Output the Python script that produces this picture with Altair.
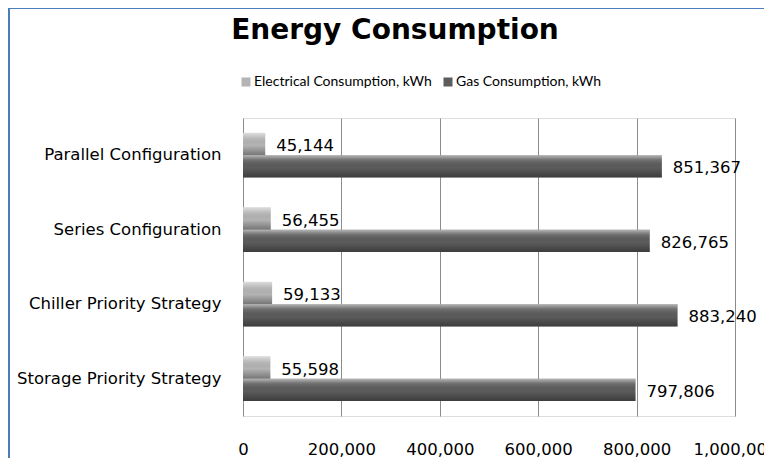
import altair as alt
import pandas as pd

categories = ["Parallel Configuration", "Series Configuration",
              "Chiller Priority Strategy", "Storage Priority Strategy"]
series = ["Electrical Consumption,  kWh", "Gas Consumption,  kWh"]
electrical = [45144, 56455, 59133, 55598]
gas = [851367, 826765, 883240, 797806]
x_ticks = [0, 200000, 400000, 600000, 800000, 1000000]
series_colors = ["#b4b4b4", "#5c5c5c"]

rows = []
for c, e, g in zip(categories, electrical, gas):
    rows.append({"category": c, "series": series[0], "value": e})
    rows.append({"category": c, "series": series[1], "value": g})
df = pd.DataFrame(rows)

FONT = "DejaVu Sans"
W, H = 492, 298

base = alt.Chart(df).encode(
    y=alt.Y("category:N", sort=categories,
            scale=alt.Scale(paddingInner=0.4, paddingOuter=0.2),
            axis=alt.Axis(title=None, labelFontSize=16.5, labelFont=FONT,
                          labelColor="#000000", labelPadding=22, labelLimit=400,
                          ticks=False, domain=False, grid=False)),
    yOffset=alt.YOffset("series:N", sort=series,
                        scale=alt.Scale(domain=series, paddingInner=0, paddingOuter=0)),
    x=alt.X("value:Q", scale=alt.Scale(domain=[0, 1000000], nice=False),
            axis=alt.Axis(title=None, values=x_ticks, format=",.0f", labelFontSize=16.5,
                          labelFont=FONT, labelColor="#000000", labelPadding=25,
                          ticks=False, domain=False, gridColor="#8c8c8c",
                          gridWidth=1, labelFlush=False, labelOverlap=False)),
)

bars = base.mark_bar().encode(
    color=alt.Color("series:N", sort=series,
                    scale=alt.Scale(domain=series, range=series_colors),
                    legend=alt.Legend(title=None, orient="none", legendX=-4, legendY=-43,
                                      direction="horizontal", symbolType="square",
                                      symbolSize=81, symbolStrokeWidth=0,
                                      labelFontSize=14, labelFont="Lato", labelLimit=400,
                                      labelColor="#000000", columnPadding=5,
                                      labelOffset=1)),
)

shine = base.mark_bar(
    fill=alt.Gradient(
        gradient="linear", x1=0, y1=0, x2=0, y2=1,
        stops=[alt.GradientStop(offset=0, color="rgba(255,255,255,0.55)"),
               alt.GradientStop(offset=0.2, color="rgba(255,255,255,0.15)"),
               alt.GradientStop(offset=0.55, color="rgba(0,0,0,0)"),
               alt.GradientStop(offset=1, color="rgba(0,0,0,0.35)")]),
)

labels = base.mark_text(align="left", baseline="middle", dx=11, dy=2,
                        fontSize=16.5, font=FONT, color="#000000").encode(
    text=alt.Text("value:Q", format=",.0f"),
)

frame_left = alt.Chart(df).mark_rule(color="#4a7ebb", strokeWidth=2).encode(
    x=alt.value(-234.5), y=alt.value(-111), y2=alt.value(H + 60))
frame_top = alt.Chart(df).mark_rule(color="#4a7ebb", strokeWidth=2).encode(
    x=alt.value(-235), x2=alt.value(W + 60), y=alt.value(-110.5))

chart = alt.layer(frame_left, frame_top, bars, shine, labels).properties(
    width=W, height=H,
    title=alt.TitleParams("Energy Consumption", font=FONT, fontSize=28,
                          fontWeight="bold", color="#000000", anchor="middle",
                          frame="group", baseline="alphabetic", offset=0,
                          dx=-94, dy=61),
    padding={"left": 235, "top": 110, "right": 29, "bottom": 42},
    autosize=alt.AutoSizeParams(type="none"),
).configure_view(stroke="#8c8c8c", strokeWidth=1.2).configure(background="white")

chart.save("out.html", embed_options={"renderer": "svg", "actions": False})
